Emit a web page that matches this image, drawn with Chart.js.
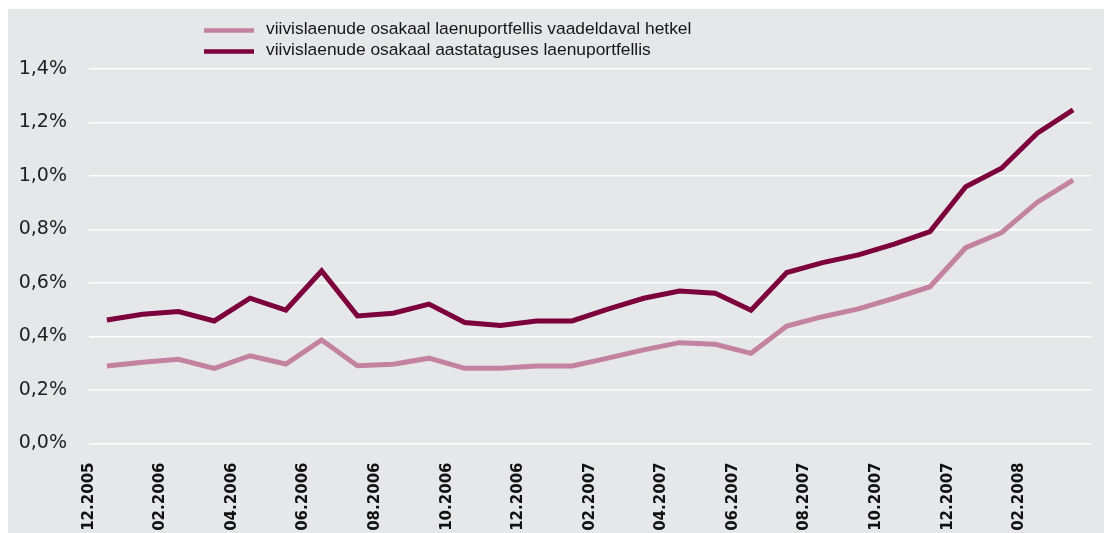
<!DOCTYPE html>
<html>
<head>
<meta charset="utf-8">
<script src="https://cdn.jsdelivr.net/npm/chart.js@4/dist/chart.umd.min.js"></script>
<style>
  html, body { margin: 0; padding: 0; background: #ffffff; }
  #wrap {
    position: absolute;
    left: 8px;
    top: 9px;
    width: 1096px;
    height: 524px;
    background: #e6e7e9;
  }
</style>
</head>
<body>
<div id="wrap"><canvas id="chart"></canvas></div>
<script>
// ================================
// DATA
// ================================
const months = [
  "12.2005", "01.2006", "02.2006", "03.2006", "04.2006", "05.2006", "06.2006",
  "07.2006", "08.2006", "09.2006", "10.2006", "11.2006", "12.2006", "01.2007",
  "02.2007", "03.2007", "04.2007", "05.2007", "06.2007", "07.2007", "08.2007",
  "09.2007", "10.2007", "11.2007", "12.2007", "01.2008", "02.2008", "03.2008"
];

// share of overdue loans in the current portfolio (%)
const currentShare = [
  0.290, 0.304, 0.315, 0.281, 0.328, 0.297, 0.387, 0.291, 0.296, 0.319,
  0.281, 0.281, 0.290, 0.290, 0.319, 0.350, 0.377, 0.371, 0.337, 0.439,
  0.474, 0.503, 0.543, 0.586, 0.732, 0.788, 0.902, 0.985
];

// share of overdue loans in the portfolio of a year ago (%)
const yearAgoShare = [
  0.462, 0.483, 0.493, 0.458, 0.543, 0.499, 0.645, 0.477, 0.487, 0.521,
  0.452, 0.441, 0.458, 0.458, 0.502, 0.543, 0.570, 0.562, 0.498, 0.639,
  0.676, 0.705, 0.745, 0.792, 0.960, 1.029, 1.160, 1.247
];

const seriesNames = [
  "viivislaenude osakaal laenuportfellis vaadeldaval hetkel",
  "viivislaenude osakaal aastataguses laenuportfellis"
];

const yTicks = [0, 0.2, 0.4, 0.6, 0.8, 1.0, 1.2, 1.4];

const LIGHT = "#c3829f";
const DARK = "#7b003c";

// ================================
// LEGEND (two stacked rows, left aligned)
// ================================
const stackedLegend = {
  id: "stackedLegend",
  afterDraw(chart) {
    const ctx = chart.ctx;
    ctx.save();
    chart.data.datasets.forEach((ds, i) => {
      const y = 21.5 + i * 21;
      ctx.strokeStyle = ds.borderColor;
      ctx.lineWidth = 4.5;
      ctx.beginPath();
      ctx.moveTo(196, y);
      ctx.lineTo(246, y);
      ctx.stroke();

      ctx.fillStyle = "#161616";
      ctx.font = "17.4px 'Liberation Sans', Arial, sans-serif";
      ctx.textBaseline = "middle";
      ctx.textAlign = "left";
      ctx.fillText(ds.label, 258, y - 1);
    });
    ctx.restore();
  }
};

// ================================
// BUILD CHART
// ================================
new Chart(document.getElementById("chart"), {
  type: "line",
  data: {
    labels: months,
    datasets: [
      {
        label: seriesNames[0],
        data: currentShare,
        borderColor: LIGHT,
        borderWidth: 5,
        pointRadius: 0,
        tension: 0,
        fill: false
      },
      {
        label: seriesNames[1],
        data: yearAgoShare,
        borderColor: DARK,
        borderWidth: 5,
        pointRadius: 0,
        tension: 0,
        fill: false
      }
    ]
  },
  options: {
    responsive: true,
    maintainAspectRatio: false,
    animation: false,
    layout: { padding: { top: 60, right: 13, left: 0, bottom: 0 } },
    plugins: {
      legend: { display: false },
      tooltip: { enabled: false }
    },
    scales: {
      x: {
        offset: true,
        grid: { display: false, drawTicks: false },
        border: { display: false },
        afterFit: s => {
          s.height = 89.5;
          s.paddingLeft = 0;
          s.paddingRight = 0;
        },
        ticks: {
          autoSkip: false,
          minRotation: 90,
          maxRotation: 90,
          padding: 19,
          labelOffset: -18,
          color: "#111111",
          font: { family: "'DejaVu Sans', sans-serif", size: 15, weight: "bold" },
          callback: function (val, i) {
            return i % 2 === 0 ? this.getLabelForValue(val) : "";
          }
        }
      },
      y: {
        min: 0,
        max: 1.4,
        grid: { color: "#ffffff", lineWidth: 1.5, drawTicks: false },
        border: { display: false },
        afterFit: s => { s.width = 81; },
        afterBuildTicks: s => { s.ticks = yTicks.map(v => ({ value: v })); },
        ticks: {
          padding: 22,
          color: "#1e1e1e",
          font: { family: "'DejaVu Sans', sans-serif", size: 19 },
          callback: v => v.toFixed(1).replace(".", ",") + "%"
        }
      }
    }
  },
  plugins: [stackedLegend]
});
</script>
</body>
</html>
